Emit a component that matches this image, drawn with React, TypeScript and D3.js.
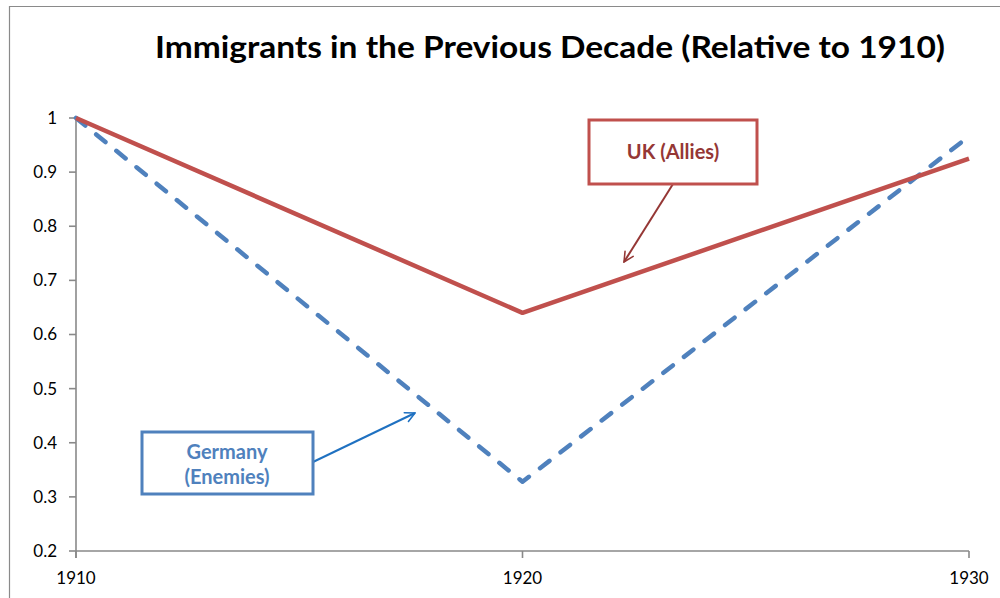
import React from "react";
import * as d3 from "d3";

const years = [1910, 1920, 1930];
const ukValues = [1.0, 0.64, 0.925];
const germanyValues = [1.0, 0.328, 0.966];
const yTicks = [0.2, 0.3, 0.4, 0.5, 0.6, 0.7, 0.8, 0.9, 1];
const xTickLabels = ["1910", "1920", "1930"];
const titleText = "Immigrants in the Previous Decade (Relative to 1910)";

const W = 1000;
const H = 598;
const FONT = "Lato, 'Open Sans', sans-serif";

export default function App() {
  const x = d3.scaleLinear().domain([1910, 1930]).range([76, 969]);
  const y = d3.scaleLinear().domain([0.2, 1]).range([551, 118]);
  const line = d3
    .line<number>()
    .x((_, i) => x(years[i]))
    .y((d) => y(d));

  const axisColor = "#898989";
  const red = "#C0504D";
  const darkRed = "#953735";
  const blue = "#4F81BD";
  const arrowBlue = "#1F71C1";

  return (
    <svg
      width={W}
      height={H}
      style={{ position: "absolute", left: 0, top: 0, background: "#fff" }}
      fontFamily={FONT}
    >
      <defs>
        <marker id="arrRed" viewBox="0 0 10 10" refX="9" refY="5" markerWidth="6" markerHeight="6" orient="auto" markerUnits="strokeWidth">
          <path d="M1,1 L9,5 L1,9" fill="none" stroke={darkRed} strokeWidth={1.3} strokeLinecap="round" />
        </marker>
        <marker id="arrBlue" viewBox="0 0 10 10" refX="9" refY="5" markerWidth="6" markerHeight="6" orient="auto" markerUnits="strokeWidth">
          <path d="M1,1 L9,5 L1,9" fill="none" stroke={arrowBlue} strokeWidth={1.3} strokeLinecap="round" />
        </marker>
      </defs>
      {/* outer frame */}
      <path d={`M9.5,${H} L9.5,6.5 L${W},6.5`} fill="none" stroke="#8a8a8a" strokeWidth={1.2} />

      {/* title */}
      <text
        x={550}
        y={58}
        textAnchor="middle"
        fontSize={31}
        fontWeight="bold"
        fill="#000"
        textLength={790}
        lengthAdjust="spacingAndGlyphs"
      >
        {titleText}
      </text>

      {/* y axis */}
      <line x1={x(1910)} x2={x(1910)} y1={y(1)} y2={y(0.2) + 7} stroke={axisColor} strokeWidth={1.6} />
      {yTicks.map((t) => (
        <g key={t}>
          <line x1={x(1910) - 7} x2={x(1910)} y1={y(t)} y2={y(t)} stroke={axisColor} strokeWidth={1.6} />
          <text x={57} y={y(t)} dy="0.35em" textAnchor="end" fontSize={17} fill="#000">
            {d3.format("~g")(t)}
          </text>
        </g>
      ))}

      {/* x axis */}
      <line x1={x(1910)} x2={x(1930)} y1={y(0.2)} y2={y(0.2)} stroke={axisColor} strokeWidth={1.6} />
      {years.map((yr, i) => (
        <g key={yr}>
          <line x1={x(yr)} x2={x(yr)} y1={y(0.2)} y2={y(0.2) + 7} stroke={axisColor} strokeWidth={1.6} />
          <text x={x(yr)} y={584} textAnchor="middle" fontSize={17} fill="#000">
            {xTickLabels[i]}
          </text>
        </g>
      ))}

      {/* series */}
      <path
        d={line(germanyValues) || ""}
        fill="none"
        stroke={blue}
        strokeWidth={4.5}
        strokeDasharray="12,14"
        strokeLinecap="round"
        strokeLinejoin="round"
      />
      <path d={line(ukValues) || ""} fill="none" stroke={red} strokeWidth={4.5} strokeLinejoin="round" />

      {/* UK annotation */}
      <line x1={673} y1={184} x2={624} y2={262} stroke={darkRed} strokeWidth={2} markerEnd="url(#arrRed)" />
      <rect x={589} y={120} width={168} height={64} fill="#fff" stroke={red} strokeWidth={3} />
      <text x={673} y={152} dy="0.35em" textAnchor="middle" fontSize={20} fontWeight="bold" fill={darkRed}>
        UK (Allies)
      </text>

      {/* Germany annotation */}
      <line x1={313} y1={462} x2={415} y2={413} stroke={arrowBlue} strokeWidth={2} markerEnd="url(#arrBlue)" />
      <rect x={142} y={432} width={171} height={62} fill="#fff" stroke={blue} strokeWidth={3} />
      <text x={227} y={452} dy="0.35em" textAnchor="middle" fontSize={20} fontWeight="bold" fill={blue}>
        Germany
      </text>
      <text x={227} y={477} dy="0.35em" textAnchor="middle" fontSize={20} fontWeight="bold" fill={blue}>
        (Enemies)
      </text>
    </svg>
  );
}
